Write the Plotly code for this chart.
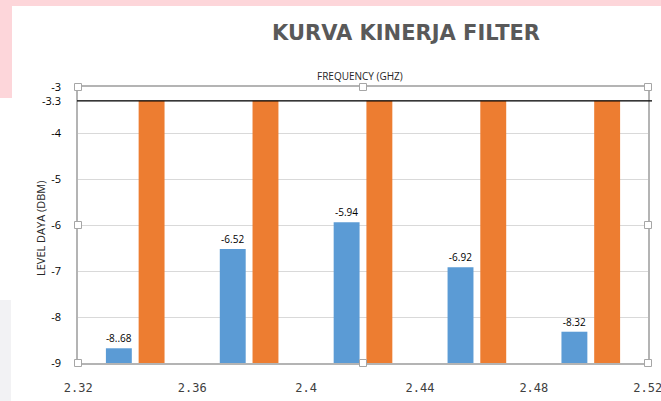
import plotly.graph_objects as go

# ---- data ----
categories = [2.34, 2.38, 2.42, 2.46, 2.50]
blue_values = [-8.68, -6.52, -5.94, -6.92, -8.32]
blue_labels = ["-8..68", "-6.52", "-5.94", "-6.92", "-8.32"]
orange_values = [-3.3, -3.3, -3.3, -3.3, -3.3]
x_tickvals = [2.32, 2.36, 2.40, 2.44, 2.48, 2.52]
x_ticktext = ["2.32", "2.36", "2.4", "2.44", "2.48", "2.52"]
y_tickvals = [-3, -3.3, -4, -5, -6, -7, -8, -9]
y_ticktext = ["-3", "-3.3", "-4", "-5", "-6", "-7", "-8", "-9"]
reference_level = -3.3
y_base = -9

W, H = 661, 401
L, R, T, B = 78, 13, 87, 38
PW, PH = W - L - R, H - T - B


def px(x):
    return (x - L) / PW


def py(y):
    return (H - B - y) / PH


fig = go.Figure()
fig.add_trace(go.Bar(
    x=categories, y=[v - y_base for v in blue_values], base=y_base,
    width=0.0091, offset=-0.0103,
    marker=dict(color="#5B9BD5", line=dict(width=0)),
    text=blue_labels, textposition="outside", cliponaxis=False,
    textfont=dict(family="Open Sans", size=10, color="#000000"),
    showlegend=False,
))
fig.add_trace(go.Bar(
    x=categories, y=[v - y_base for v in orange_values], base=y_base,
    width=0.0091, offset=0.0012,
    marker=dict(color="#ED7D31", line=dict(width=0)),
    showlegend=False,
))

shapes = []
# background decorations
shapes.append(dict(type="rect", xref="paper", yref="paper", x0=px(0), x1=px(W), y0=py(0), y1=py(6),
                   fillcolor="#FDD6DA", line=dict(width=0), layer="below"))
shapes.append(dict(type="rect", xref="paper", yref="paper", x0=px(0), x1=px(12), y0=py(0), y1=py(98),
                   fillcolor="#FDD6DA", line=dict(width=0), layer="below"))
shapes.append(dict(type="rect", xref="paper", yref="paper", x0=px(0), x1=px(11), y0=py(300), y1=py(H),
                   fillcolor="#F2F2F4", line=dict(width=0), layer="below"))
# reference line
shapes.append(dict(type="line", xref="paper", yref="y", x0=px(77), x1=px(652),
                   y0=reference_level, y1=reference_level, line=dict(color="#000000", width=1.2)))
# selection handles
for hx, hy in [(L, T), (L + PW / 2, T), (L + PW, T), (L, T + PH / 2), (L + PW, T + PH / 2),
               (L, T + PH), (L + PW / 2, T + PH), (L + PW, T + PH)]:
    shapes.append(dict(type="rect", xref="paper", yref="paper",
                       x0=px(hx - 3.5), x1=px(hx + 3.5), y0=py(hy + 3.5), y1=py(hy - 3.5),
                       fillcolor="#FFFFFF", line=dict(color="#A6A6A6", width=1)))

annotations = [
    dict(text="FREQUENCY (GHZ)", xref="paper", yref="paper", x=px(360), y=py(76),
         xanchor="center", yanchor="middle", showarrow=False,
         font=dict(family="Open Sans", size=10, color="#262626")),
    dict(text="LEVEL DAYA (DBM)", xref="paper", yref="paper", x=px(40), y=py(228),
         xanchor="center", yanchor="middle", showarrow=False, textangle=-90,
         font=dict(family="Open Sans", size=11, color="#262626")),
]

fig.update_layout(
    width=W, height=H,
    margin=dict(l=L, r=R, t=T, b=B, pad=0, autoexpand=False),
    paper_bgcolor="#FFFFFF", plot_bgcolor="#FFFFFF",
    title=dict(text="<b>KURVA KINERJA FILTER</b>", x=px(406), xref="paper", xanchor="center",
               y=1 - 33 / H, yanchor="middle",
               font=dict(family="DejaVu Sans", size=21, color="#595959")),
    barmode="overlay",
    shapes=shapes,
    annotations=annotations,
    xaxis=dict(range=[2.3199, 2.5201], tickvals=x_tickvals, ticktext=x_ticktext,
               showgrid=False, zeroline=False, showline=True, mirror=True,
               linecolor="#B4B4B4", linewidth=1.5, ticks="", ticklabelstandoff=13,
               ticklabeloverflow="allow", automargin=False,
               tickfont=dict(family="DejaVu Sans Mono", size=12, color="#404040")),
    yaxis=dict(range=[-9, -3], tickvals=y_tickvals, ticktext=y_ticktext,
               showgrid=True, gridcolor="#D9D9D9", gridwidth=1, zeroline=False,
               showline=True, mirror=True, linecolor="#B4B4B4", linewidth=1.5,
               ticks="", ticklabelstandoff=13, automargin=False,
               tickfont=dict(family="Open Sans", size=11, color="#000000")),
)

fig.write_html("out.html", config={"displayModeBar": False},
               post_script="document.body.style.margin='0';document.body.style.overflow='hidden';")
